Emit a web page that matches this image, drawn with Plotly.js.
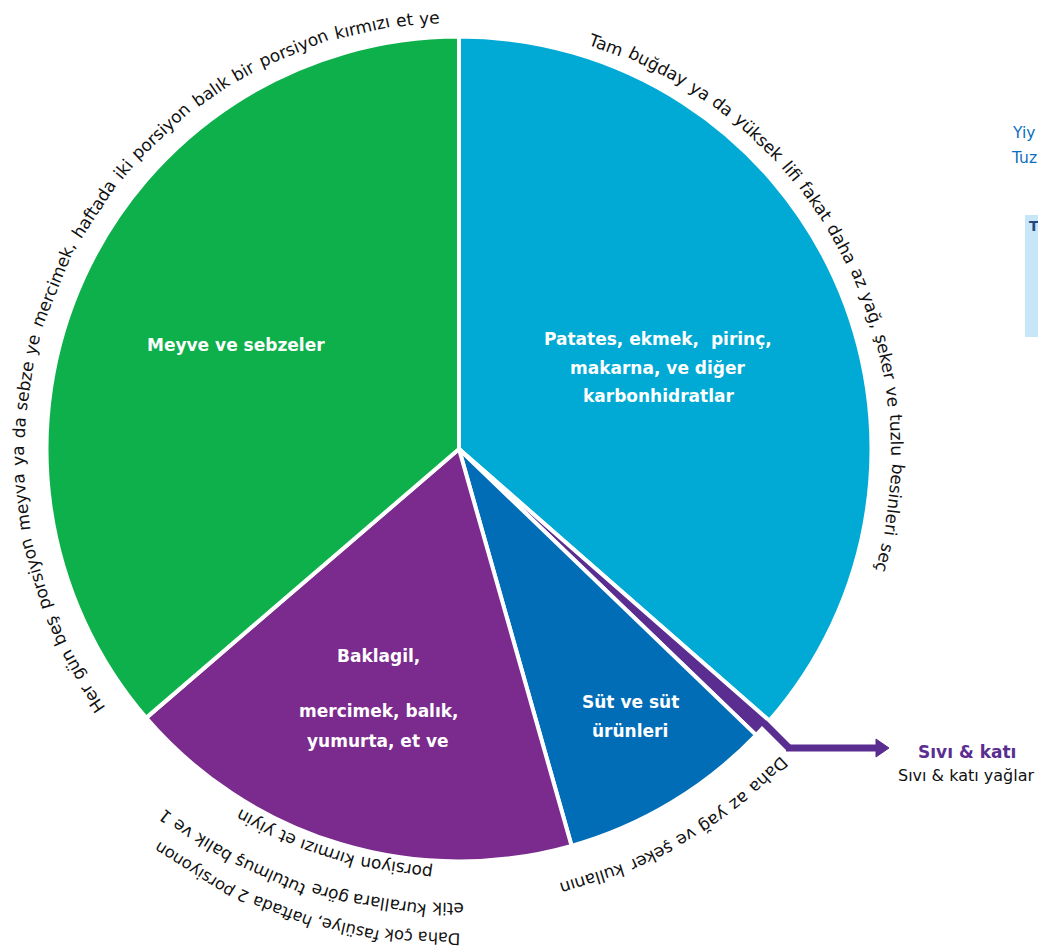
<!DOCTYPE html>
<html><head><meta charset="utf-8">
<script src="https://cdn.plot.ly/plotly-3.0.1.min.js"></script>
<style>html,body{margin:0;padding:0;background:#fff;overflow:hidden}</style>
</head><body>
<div id="chart" style="width:1038px;height:952px"></div>
<script>
// ---- data ----
const categories = ["Patates, ekmek, pirinç, makarna, ve diğer karbonhidratlar", "Sıvı & katı yağlar", "Süt ve süt ürünleri", "Baklagil, mercimek, balık, yumurta, et ve", "Meyve ve sebzeler"];
const sliceValues = [36.45, 0.75, 8.4, 18.1, 36.3];
const sliceColors = ["#00AAD4", "#5A2D91", "#006DB6", "#7B2A8D", "#0EB04B"];
const sliceLabelLines = [
  ["Patates, ekmek,  pirinç,", "makarna, ve diğer", "karbonhidratlar"],
  [],
  ["Süt ve süt", "ürünleri"],
  ["Baklagil,", "mercimek, balık,", "yumurta, et ve"],
  ["Meyve ve sebzeler"]
];
const adviceTexts = [
  "Tam buğday ya da yüksek lifi fakat daha az yağ, şeker ve tuzlu besinleri seç",
  "Daha az yağ ve şeker kullanın",
  "Daha çok fasülye, haftada 2 porsiyonon",
  "etik kurallara göre tutulmuş balık ve 1",
  "porsiyon kırmızı et yiyin",
  "Her gün beş porsiyon meyva ya da sebze ye mercimek, haftada iki porsiyon balık bir porsiyon kırmızı et ye"
];
const oilTitle = "Sıvı & katı";
const oilSubtitle = "Sıvı & katı yağlar";
const sideTexts = ["Yiy", "Tuz"];

// ---- layout (positions / styles) ----
const W = 1038, H = 952;
const cx = 459, cy = 449, R = 412.5;
const px = x => x / W, py = y => 1 - y / H;

const labelPos = [
  [[658, 339], [658, 368], [658, 396]],
  [],
  [[630, 702], [630, 731]],
  [[378, 656], [379, 711], [378, 741]],
  [[236, 345]]
];
// arcs for curved advice texts: start/end angle (deg clockwise from 12 o'clock), radius at start/end
const arcs = [
  {s: 17.6, e: 106.4, r1: 430, r2: 440},
  {s: 133.6, e: 167.1, r1: 450, r2: 451},
  {s: 179.9, e: 217.4, r1: 489, r2: 499},
  {s: 179.5, e: 219.3, r1: 459, r2: 471},
  {s: 183.5, e: 211.3, r1: 423, r2: 427},
  {s: 233.7, e: 357.5, r1: 444, r2: 432}
];

const canvas = document.createElement('canvas');
const ctx = canvas.getContext('2d');
function measure(t, fs) { ctx.font = fs + 'px "DejaVu Sans"'; return ctx.measureText(t).width; }

const annotations = [];

sliceLabelLines.forEach((lines, i) => {
  lines.forEach((ln, j) => {
    const p = labelPos[i][j];
    annotations.push({x: px(p[0]), y: py(p[1]), xref: 'paper', yref: 'paper', text: ln, showarrow: false,
      xanchor: 'center', yanchor: 'middle',
      font: {family: 'DejaVu Sans', size: 17, weight: 'bold', color: '#ffffff'}});
  });
});

adviceTexts.forEach((txt, k) => {
  const a = arcs[k];
  const rm = (a.r1 + a.r2) / 2;
  const L = rm * (a.e - a.s) * Math.PI / 180;
  const w100 = measure(txt, 100);
  let fs = 100 * L / w100;
  fs = Math.max(13, Math.min(17, fs));
  const total = measure(txt, fs);
  const words = txt.split(' ');
  words.forEach((wd, i) => {
    const prefix = i > 0 ? words.slice(0, i).join(' ') + ' ' : '';
    const mid = measure(prefix, fs) + measure(wd, fs) / 2;
    const f = mid / total;
    const th = a.s + f * (a.e - a.s);
    const r = a.r1 + f * (a.r2 - a.r1);
    const rad = th * Math.PI / 180;
    const x = cx + r * Math.sin(rad), y = cy - r * Math.cos(rad);
    let ang = th % 360; if (ang > 180) ang -= 360;
    annotations.push({x: px(x), y: py(y), xref: 'paper', yref: 'paper', text: wd, showarrow: false,
      xanchor: 'center', yanchor: 'middle', textangle: ang,
      font: {family: 'DejaVu Sans', size: fs, color: '#111111'}});
  });
});

annotations.push({x: px(967), y: py(752), xref: 'paper', yref: 'paper', text: oilTitle, showarrow: false,
  xanchor: 'center', yanchor: 'middle', font: {family: 'DejaVu Sans', size: 17, weight: 'bold', color: '#5A2D91'}});
annotations.push({x: px(896), y: py(775), xref: 'paper', yref: 'paper', text: oilSubtitle, showarrow: false,
  xanchor: 'left', yanchor: 'middle', font: {family: 'DejaVu Sans', size: 16, color: '#111111'}});
annotations.push({x: px(1010), y: py(133), xref: 'paper', yref: 'paper', text: sideTexts[0], showarrow: false,
  xanchor: 'left', yanchor: 'middle', font: {family: 'DejaVu Sans', size: 15.5, color: '#0B6FC0'}});
annotations.push({x: px(1009), y: py(158), xref: 'paper', yref: 'paper', text: sideTexts[1], showarrow: false,
  xanchor: 'left', yanchor: 'middle', font: {family: 'DejaVu Sans', size: 15.5, color: '#0B6FC0'}});
annotations.push({x: px(1027), y: py(226), xref: 'paper', yref: 'paper', text: 'T', showarrow: false,
  xanchor: 'left', yanchor: 'middle', font: {family: 'DejaVu Sans', size: 14, weight: 'bold', color: '#25477A'}});

const shapes = [
  {type: 'rect', xref: 'paper', yref: 'paper', x0: px(1025), x1: px(1040), y0: py(215), y1: py(337),
   fillcolor: '#C7E7F9', line: {width: 0}, layer: 'below'},
  {type: 'line', xref: 'paper', yref: 'paper', x0: px(764), y0: py(723), x1: px(789), y1: py(748),
   line: {color: '#5A2D91', width: 7}},
  {type: 'line', xref: 'paper', yref: 'paper', x0: px(786), y0: py(748), x1: px(880), y1: py(748),
   line: {color: '#5A2D91', width: 7}},
  {type: 'path', xref: 'paper', yref: 'paper',
   path: `M ${px(876)} ${py(739)} L ${px(889)} ${py(748)} L ${px(876)} ${py(757)} Z`,
   fillcolor: '#5A2D91', line: {color: '#5A2D91', width: 1}}
];

const trace = {
  type: 'pie', values: sliceValues, labels: categories, sort: false, direction: 'clockwise', rotation: 0,
  marker: {colors: sliceColors, line: {color: '#ffffff', width: 4}},
  textinfo: 'none', hoverinfo: 'skip', showlegend: false,
  domain: {x: [px(cx - R), px(cx + R)], y: [py(cy + R), py(cy - R)]}
};

const layout = {
  width: W, height: H, margin: {l: 0, r: 0, t: 0, b: 0},
  paper_bgcolor: '#ffffff', plot_bgcolor: '#ffffff', showlegend: false,
  annotations: annotations, shapes: shapes
};

Plotly.newPlot('chart', [trace], layout, {staticPlot: true, displayModeBar: false});
</script>
</body></html>
